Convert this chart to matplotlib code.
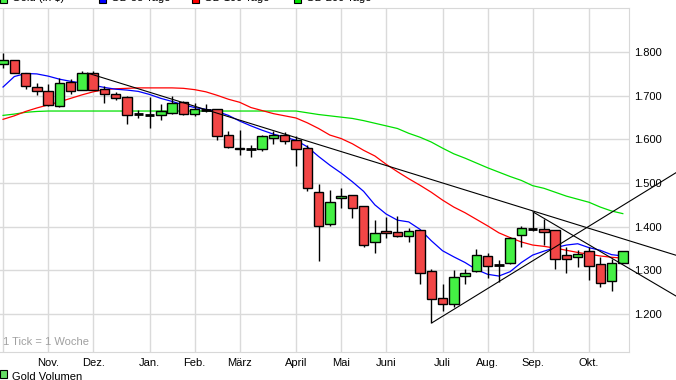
import matplotlib
matplotlib.use("Agg")
import matplotlib.pyplot as plt
from matplotlib.patches import Rectangle

# weekly candles, Oct 2012 - Oct 2013 (index = week)
opens = [1772, 1781, 1751, 1719, 1712, 1677, 1732, 1714, 1751, 1716, 1705, 1698, 1658, 1655,
         1657, 1661, 1686, 1659, 1667, 1669, 1610, 1581, 1579, 1579, 1604, 1609, 1598, 1581,
         1480, 1406, 1465, 1472, 1447, 1365, 1390, 1388, 1379, 1392, 1298, 1236, 1222, 1286,
         1298, 1334, 1313, 1316, 1381, 1394, 1394, 1392, 1335, 1330, 1344, 1314, 1276, 1317]
highs = [1797, 1783, 1753, 1730, 1728, 1741, 1739, 1757, 1756, 1723, 1709, 1699, 1668, 1697,
         1682, 1699, 1687, 1684, 1680, 1670, 1619, 1621, 1587, 1610, 1619, 1617, 1607, 1587,
         1497, 1485, 1488, 1473, 1448, 1415, 1423, 1424, 1396, 1393, 1302, 1268, 1301, 1302,
         1349, 1340, 1324, 1377, 1401, 1434, 1417, 1393, 1354, 1346, 1354, 1330, 1327, 1345]
lows = [1763, 1751, 1716, 1701, 1677, 1675, 1705, 1713, 1713, 1684, 1690, 1636, 1649, 1625,
        1644, 1659, 1657, 1654, 1662, 1598, 1580, 1564, 1560, 1574, 1590, 1589, 1539, 1482,
        1322, 1402, 1442, 1419, 1354, 1339, 1373, 1377, 1366, 1268, 1180, 1208, 1217, 1269,
        1297, 1283, 1274, 1314, 1353, 1391, 1358, 1303, 1293, 1307, 1279, 1261, 1253, 1316]
closes = [1781, 1753, 1723, 1712, 1678, 1730, 1712, 1753, 1714, 1705, 1694, 1655, 1658, 1655,
          1664, 1684, 1659, 1669, 1667, 1608, 1582, 1577, 1579, 1607, 1609, 1597, 1579, 1488,
          1401, 1457, 1470, 1444, 1357, 1385, 1385, 1379, 1391, 1295, 1234, 1222, 1284, 1295,
          1335, 1310, 1313, 1373, 1396, 1394, 1388, 1325, 1325, 1337, 1311, 1270, 1316, 1344]

gd38 = [1720, 1744, 1751, 1750, 1745, 1738, 1733, 1729, 1724, 1719, 1715, 1713, 1710, 1703,
        1694, 1687, 1679, 1673, 1669, 1664, 1655, 1642, 1631, 1621, 1612, 1605, 1598, 1583,
        1561, 1541, 1523, 1503, 1481, 1450, 1429, 1415, 1411, 1394, 1368, 1345, 1331, 1318,
        1302, 1291, 1287, 1297, 1318, 1335, 1344, 1352, 1358, 1361, 1352, 1346, 1336, 1333]
gd100 = [1646, 1654, 1664, 1672, 1679, 1686, 1694, 1702, 1709, 1714, 1716, 1717, 1718, 1718,
         1718, 1718, 1717, 1714, 1709, 1701, 1692, 1685, 1673, 1666, 1659, 1654, 1649, 1638,
         1625, 1610, 1602, 1590, 1575, 1562, 1543, 1526, 1510, 1495, 1479, 1461, 1445, 1432,
         1417, 1402, 1386, 1375, 1365, 1358, 1355, 1351, 1346, 1341, 1337, 1333, 1330, 1328]
gd200 = [1655, 1658, 1662, 1664, 1665, 1665, 1665, 1665, 1665, 1665, 1665, 1665, 1665, 1665,
         1665, 1665, 1665, 1665, 1665, 1665, 1665, 1665, 1665, 1665, 1665, 1665, 1665, 1661,
         1657, 1654, 1651, 1648, 1643, 1637, 1631, 1625, 1614, 1605, 1594, 1580, 1567, 1557,
         1546, 1535, 1525, 1515, 1506, 1494, 1488, 1479, 1470, 1463, 1456, 1445, 1436, 1430]

# trend lines: (week, value) start and end
trends = [((7.5, 1752), (59.8, 1334)),
          ((38.07, 1180), (59.8, 1525)),
          ((47.03, 1434), (59.8, 1240))]

month_weeks = [0, 4, 8, 13, 17, 21, 26, 30, 34, 39, 43, 47, 52]
month_names = ['', 'Nov.', 'Dez.', 'Jan.', 'Feb.', 'März', 'April', 'Mai', 'Juni',
               'Juli', 'Aug.', 'Sep.', 'Okt.']
y_ticks = [1200, 1300, 1400, 1500, 1600, 1700, 1800]

plt.rcParams['font.family'] = ['Liberation Sans', 'DejaVu Sans']

W, H = 676, 380
fig = plt.figure(figsize=(W / 100, H / 100), dpi=100)
ax = fig.add_axes([0, 1 - 352 / H, 629 / W, 344 / H])

weeks = list(range(len(opens)))
red = '#f24646'
green = '#44f044'

for i in weeks:
    o, h, l, c = opens[i], highs[i], lows[i], closes[i]
    ax.vlines(i, l, h, color='black', linewidth=1, zorder=3)
    col = green if c > o else red
    bottom = min(o, c)
    height = abs(c - o)
    if height < 1:
        ax.hlines(o, i - 0.42, i + 0.42, color='black', linewidth=2, zorder=4)
    else:
        ax.bar(i, height, 0.84, bottom=bottom, color=col, edgecolor='black',
               linewidth=1, zorder=4)

ax.plot(weeks, gd200, color='#00e000', linewidth=0.9, zorder=2)
ax.plot(weeks, gd100, color='#ff0000', linewidth=0.9, zorder=2)
ax.plot(weeks, gd38, color='#0000ff', linewidth=0.9, zorder=2)

for (x0, y0), (x1, y1) in trends:
    ax.plot([x0, x1], [y0, y1], color='black', linewidth=0.8, zorder=5, clip_on=False)

ax.set_xlim(-0.27, 55.55)
ax.set_ylim(1113, 1901)
ax.set_xticks(month_weeks)
ax.set_xticklabels(month_names)
ax.set_yticks(y_ticks)
ax.set_yticklabels(['{:,}'.format(v).replace(',', '.') for v in y_ticks])
ax.yaxis.tick_right()
ax.tick_params(axis='both', length=0, labelsize=8, colors='black')
ax.tick_params(axis='y', pad=4)
ax.tick_params(axis='x', pad=4)
ax.grid(True, color='#dadada', linewidth=1)
ax.set_axisbelow(True)
for s in ['top', 'right', 'bottom']:
    ax.spines[s].set_color('#d8d8d8')
ax.spines['left'].set_visible(False)

ax.text(3 / 629, (352 - 342) / 344, '1 Tick = 1 Woche', transform=ax.transAxes,
        fontsize=8, color='#a0a0a0', va='center', ha='left')

# legends (cut by figure edge like the original)
def px(x, y):
    return x / W, 1 - y / H

top_items = [(0, '#44f044', 'Gold (in $)'), (99, '#0000ff', 'GD 38 Tage'),
             (192, '#ff0000', 'GD 100 Tage'), (294, '#00e000', 'GD 200 Tage')]
for x, c, label in top_items:
    fx, fy = px(x, 3)
    fig.patches.append(Rectangle((fx, fy), 7 / W, 8 / H, transform=fig.transFigure,
                                 facecolor=c, edgecolor='black', linewidth=0.8))
    tx, ty = px(x + 12, -2)
    fig.text(tx, ty, label, fontsize=8, va='center', ha='left')

fx, fy = px(0, 378)
fig.patches.append(Rectangle((fx, fy), 7 / W, 8 / H, transform=fig.transFigure,
                             facecolor='#66dd66', edgecolor='black', linewidth=0.8))
tx, ty = px(12, 377)
fig.text(tx, ty, 'Gold Volumen', fontsize=8, va='center', ha='left')

fig.savefig('out.png', dpi=100)
